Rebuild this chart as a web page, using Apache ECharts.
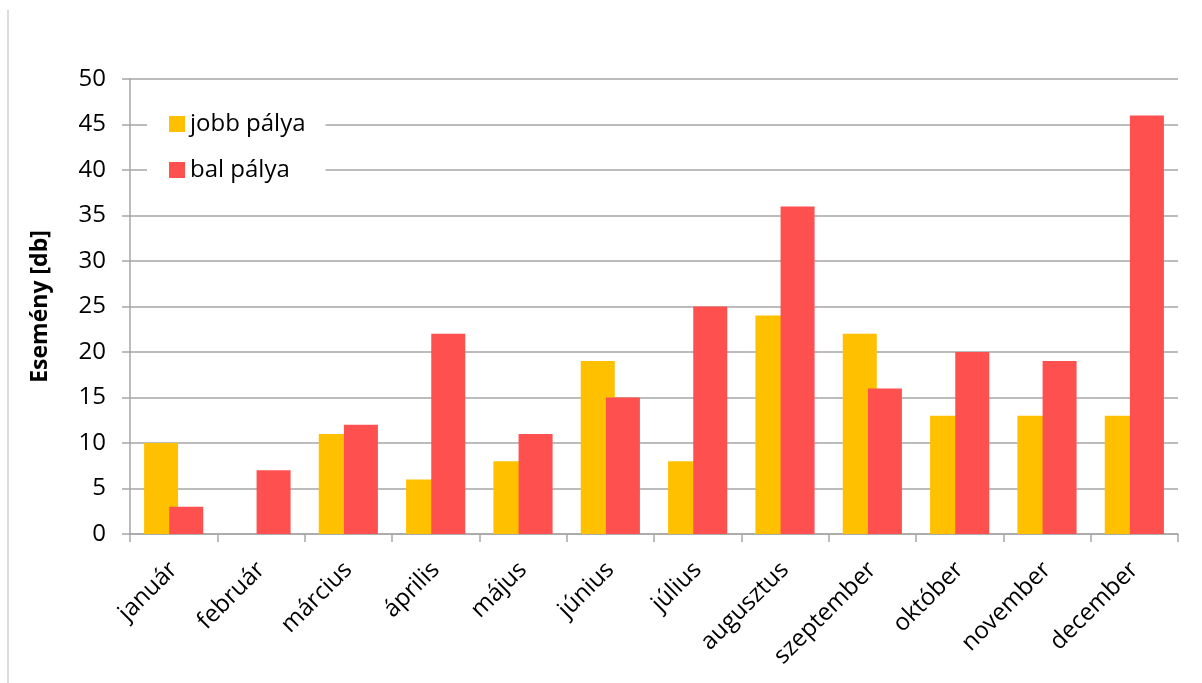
<!DOCTYPE html>
<html>
<head>
<meta charset="utf-8">
<script src="https://cdn.jsdelivr.net/npm/echarts@6/dist/echarts.min.js"></script>
<style>
html,body{margin:0;padding:0;background:#fff;}
#chart{width:1202px;height:683px;}
</style>
</head>
<body>
<div id="chart"></div>
<script>
// Havi eseményszámok pályánként
const months = ['január','február','március','április','május','június','július','augusztus','szeptember','október','november','december'];
const jobbPalya = [10, 0, 11, 6, 8, 19, 8, 24, 22, 13, 13, 13];
const balPalya = [3, 7, 12, 22, 11, 15, 25, 36, 16, 20, 19, 46];
const yTicks = [0, 5, 10, 15, 20, 25, 30, 35, 40, 45, 50];

const font = '"Open Sans", "Noto Sans", sans-serif';
const gridColor = '#A6A6A6';

const chart = echarts.init(document.getElementById('chart'));
chart.setOption({
  backgroundColor: '#fff',
  animation: false,
  grid: { left: 130, right: 24, top: 79, bottom: 149 },
  legend: {
    left: 147, top: 106,
    orient: 'vertical',
    itemWidth: 16, itemHeight: 16, itemGap: 22,
    backgroundColor: '#fff',
    padding: [6, 20, 6, 22],
    icon: 'rect',
    textStyle: { fontFamily: font, fontSize: 24, color: '#000' },
    data: ['jobb pálya', 'bal pálya']
  },
  xAxis: {
    type: 'category',
    data: months,
    axisLine: { lineStyle: { color: gridColor, width: 1.5 } },
    axisTick: { show: true, length: 8, lineStyle: { color: gridColor, width: 1.5 } },
    axisLabel: {
      rotate: 45, fontFamily: font, fontSize: 24, color: '#000', margin: 32, interval: 0
    }
  },
  yAxis: {
    type: 'value',
    min: yTicks[0], max: yTicks[yTicks.length - 1], interval: 5,
    name: 'Esemény [db]',
    nameLocation: 'middle',
    nameGap: 78,
    nameTextStyle: { fontFamily: font, fontSize: 23, fontWeight: 'bold', color: '#000' },
    axisLine: { show: true, lineStyle: { color: gridColor, width: 1.5 } },
    axisTick: { show: true, length: 8, lineStyle: { color: gridColor, width: 1.5 } },
    axisLabel: { fontFamily: font, fontSize: 24, color: '#000', margin: 24 },
    splitLine: { lineStyle: { color: gridColor, width: 1.5 } }
  },
  series: [
    {
      name: 'jobb pálya', type: 'bar', data: jobbPalya,
      barWidth: 34, barGap: '-26%',
      itemStyle: { color: '#FFC000' }
    },
    {
      name: 'bal pálya', type: 'bar', data: balPalya,
      barWidth: 34, barGap: '-26%',
      itemStyle: { color: '#FF5050' }
    }
  ],
  graphic: [
    {
      type: 'line',
      shape: { x1: 8, y1: 10, x2: 8, y2: 683 },
      style: { stroke: '#D0D0D0', lineWidth: 1.5 }
    }
  ]
});
</script>
</body>
</html>
